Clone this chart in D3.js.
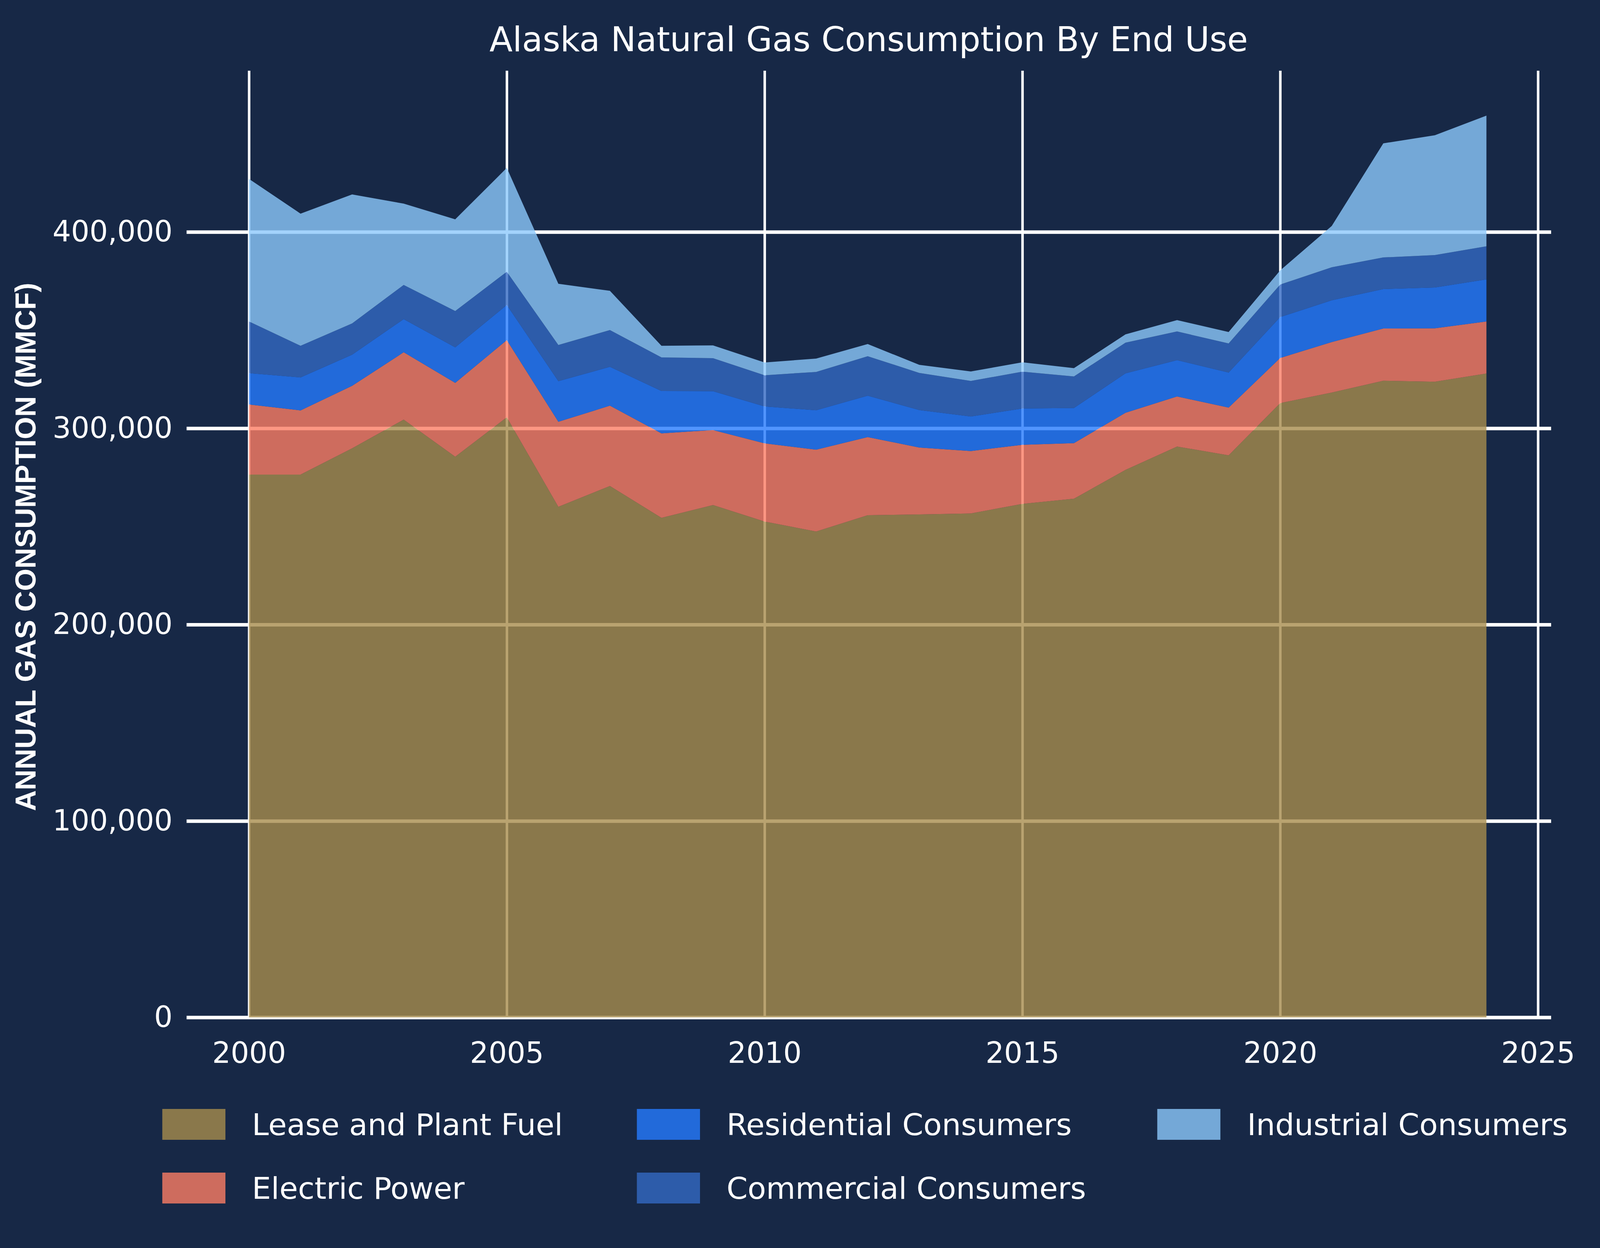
<!DOCTYPE html>
<html>
<head>
<meta charset="utf-8">
<script src="https://cdn.jsdelivr.net/npm/d3@7"></script>
<style>
  html, body { margin: 0; padding: 0; background: #172846; overflow: hidden; width: 100%; height: 100%; }
  svg { display: block; width: 100vw; height: 100vh; }
</style>
</head>
<body>
<svg id="chart" viewBox="0 0 5728 3195" preserveAspectRatio="none"></svg>
<script>
// ---- data (MMCF) ----
const years = [2000, 2001, 2002, 2003, 2004, 2005, 2006, 2007, 2008, 2009, 2010, 2011, 2012,
               2013, 2014, 2015, 2016, 2017, 2018, 2019, 2020, 2021, 2022, 2023, 2024];
const leasePlantFuel = [276400, 276400, 289800, 304400, 285500, 305600, 260000, 270600, 254400, 260900, 252500, 247400, 255700,
                        256100, 256600, 261500, 264100, 278800, 290700, 286200, 312800, 318200, 324200, 323700, 327900];
const electricPower = [35700, 32700, 31800, 34300, 37600, 39300, 43300, 40900, 43000, 38200, 39800, 41700, 39800,
                       34100, 31800, 30100, 28300, 29100, 25500, 24300, 23000, 25700, 26600, 27200, 26500];
const residential = [16000, 16800, 15900, 16900, 18100, 17900, 20700, 19800, 21600, 19800, 18800, 20100, 21100,
                     19100, 17600, 18500, 17900, 20100, 18500, 17900, 20800, 21300, 20100, 20800, 21400];
const commercial = [26300, 16100, 15900, 17400, 18500, 16900, 18400, 18700, 17100, 16800, 15900, 19500, 20100,
                    18900, 18100, 18700, 16100, 15600, 14600, 14800, 16600, 16800, 16100, 16500, 16900];
const industrial = [72600, 67300, 65700, 41400, 46700, 52900, 31200, 20000, 5900, 6500, 6500, 6800, 6200,
                    4100, 4800, 4800, 4200, 4200, 5800, 5800, 7200, 21000, 58100, 61000, 66500];
const seriesNames = ["Lease and Plant Fuel", "Electric Power", "Residential Consumers", "Commercial Consumers", "Industrial Consumers"];
const yTicks = [0, 100000, 200000, 300000, 400000];
const xTicks = [2000, 2005, 2010, 2015, 2020, 2025];

// ---- style ----
const bg = "#172846";
const fills = ["#A88C4C", "#FC7D64", "#257BFF", "#3369C3", "#8CC8FB"];
const areaOpacity = 0.8;
const font = "'DejaVu Sans', sans-serif";

// keep text undistorted if the viewport's aspect differs from the 5728x3195 design
const vw = window.innerWidth || 5728, vh = window.innerHeight || 3195;
const kText = (vw / 5728) / (vh / 3195);
function unstretch(sel, cy) {
  sel.attr("transform", `translate(0,${cy}) scale(1,${kText}) translate(0,${-cy})`);
}

const svg = d3.select("#chart");
svg.append("rect").attr("width", 5728).attr("height", 3195).attr("fill", bg);

const x = d3.scaleLinear().domain([2000, 2025]).range([891.4, 5506]);
const y = d3.scaleLinear().domain([0, 400000]).range([2604.5, 593.7]);
const gridLeft = 668, gridRight = 5553, gridTop = 181;

// table for stacking
const seriesArrays = [leasePlantFuel, electricPower, residential, commercial, industrial];
const table = years.map((yr, i) => {
  const row = { year: yr };
  seriesNames.forEach((n, k) => row[n] = seriesArrays[k][i]);
  return row;
});
const stacked = d3.stack().keys(seriesNames)(table);

// ---- axes / grid ----
const yAxis = d3.axisLeft(y).tickValues(yTicks).tickFormat(d3.format(","))
  .tickSize(gridRight - gridLeft).tickPadding(50);
const gy = svg.append("g").attr("transform", `translate(${gridRight},0)`).call(yAxis);
gy.select(".domain").remove();
gy.selectAll("line").attr("stroke", "#ffffff").attr("stroke-width", 9);
gy.selectAll("text").attr("fill", "#ffffff").attr("font-size", 104).attr("font-family", font);
unstretch(gy.selectAll("text"), 0);

const xAxis = d3.axisBottom(x).tickValues(xTicks).tickFormat(d3.format("d"))
  .tickSize(-(y(0) - gridTop)).tickPadding(53);
const gx = svg.append("g").attr("transform", `translate(0,${y(0)})`).call(xAxis);
gx.select(".domain").remove();
gx.selectAll("line").attr("stroke", "#ffffff").attr("stroke-width", 9);
gx.selectAll("text").attr("fill", "#ffffff").attr("font-size", 104).attr("font-family", font);
unstretch(gx.selectAll("text"), 53 + 38);

// ---- stacked areas ----
const area = d3.area()
  .x(d => x(d.data.year))
  .y0(d => y(d[0]))
  .y1(d => y(d[1]));
svg.append("g").selectAll("path").data(stacked).join("path")
  .attr("d", area)
  .attr("fill", (d, i) => fills[i])
  .attr("fill-opacity", areaOpacity);

// ---- title ----
const title = svg.append("text")
  .attr("x", 3110).attr("y", 143)
  .attr("text-anchor", "middle")
  .attr("fill", "#ffffff")
  .attr("font-family", font)
  .attr("font-size", 121)
  .text("Alaska Natural Gas Consumption By End Use");
unstretch(title, 100);

// ---- y label ----
const yl = svg.append("g");
yl.append("text")
  .attr("transform", "translate(127,1400) rotate(-90)")
  .attr("text-anchor", "middle")
  .attr("fill", "#ffffff")
  .attr("font-family", "'Liberation Sans', Arial, sans-serif")
  .attr("font-weight", "bold")
  .attr("font-size", 103)
  .text("ANNUAL GAS CONSUMPTION (MMCF)");
unstretch(yl, 1400);

// ---- legend ----
const legendCols = [581, 2280, 4143];
const legendTextCols = [902, 2601, 4465];
const legendRows = [2839, 3002];
const legendPos = [[0,0],[0,1],[1,0],[1,1],[2,0]];
const lg = svg.append("g");
seriesNames.forEach((name, i) => {
  const [c, r] = legendPos[i];
  lg.append("rect")
    .attr("x", legendCols[c]).attr("y", legendRows[r])
    .attr("width", 226).attr("height", 79)
    .attr("fill", fills[i]).attr("fill-opacity", areaOpacity);
  const t = lg.append("text")
    .attr("x", legendTextCols[c]).attr("y", legendRows[r] + 78)
    .attr("fill", "#ffffff")
    .attr("font-family", font)
    .attr("font-size", 108)
    .text(name);
  unstretch(t, legendRows[r] + 40);
});
</script>
</body>
</html>
